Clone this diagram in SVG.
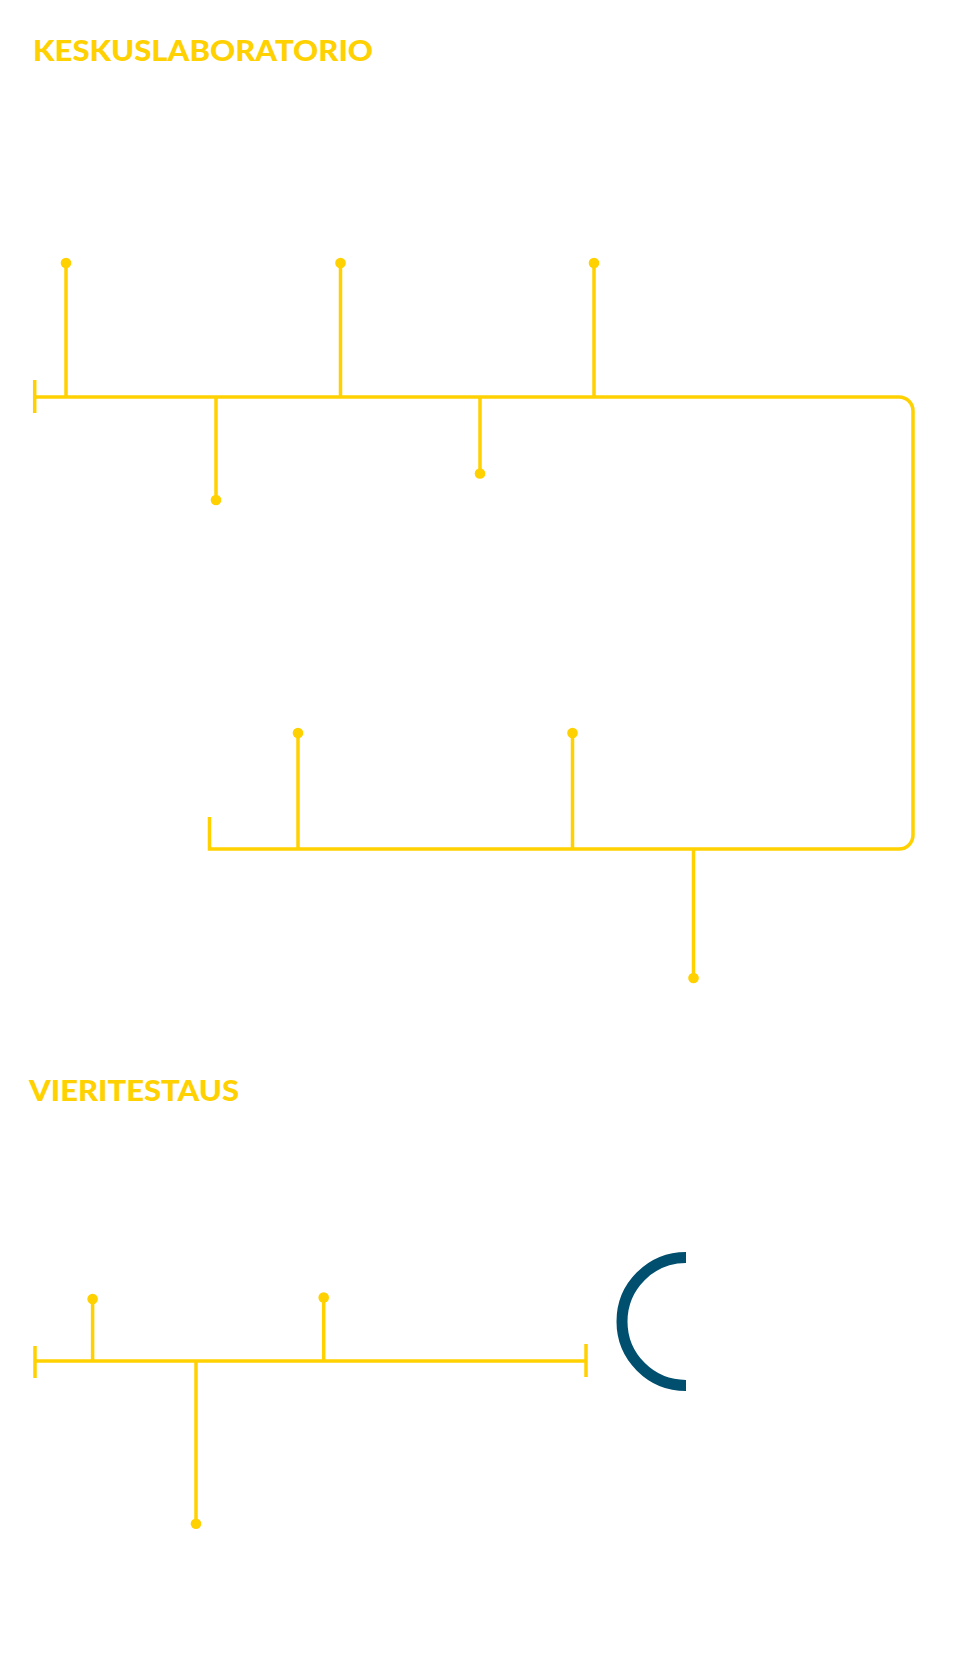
<svg xmlns="http://www.w3.org/2000/svg" width="970" height="1666" viewBox="0 0 970 1666">
<style>
.t{font-family:"Lato","Liberation Sans",sans-serif;font-weight:900;font-size:29px;fill:#FFD100}
.ln{fill:none;stroke:#FFD100;stroke-width:3.5}
.dot{fill:#FFD100}
</style>
<rect width="970" height="1666" fill="#ffffff"/>
<g id="title-keskuslaboratorio"><text class="t" x="33" y="61" textLength="340" lengthAdjust="spacingAndGlyphs">KESKUSLABORATORIO</text></g>
<g id="title-vieritestaus"><text class="t" x="29" y="1101" textLength="210" lengthAdjust="spacingAndGlyphs">VIERITESTAUS</text></g>
<g id="connectors">
<path class="ln" d="M35,397 H899 A14,14 0 0 1 913,411 V835 A14,14 0 0 1 899,849 H209.5 V817"/>
<path class="ln" d="M34.7,380 V413"/>
<path class="ln" d="M66,263 V397 M340.5,263 V397 M594,263 V397 M216,397 V500 M480,397 V473.5"/>
<path class="ln" d="M298,733 V849 M572.5,733 V849 M693.5,849 V978"/>
<path class="ln" d="M35,1361 H586 M35,1346 V1378 M586,1344 V1377"/>
<path class="ln" d="M92.6,1299 V1361 M323.7,1297.5 V1361 M196,1361 V1523.7"/>
</g>
<g id="dots">
<circle class="dot" cx="66" cy="263" r="5.3"/>
<circle class="dot" cx="340.5" cy="263" r="5.3"/>
<circle class="dot" cx="594" cy="263" r="5.3"/>
<circle class="dot" cx="216" cy="500" r="5.3"/>
<circle class="dot" cx="480" cy="473.5" r="5.3"/>
<circle class="dot" cx="298" cy="733" r="5.3"/>
<circle class="dot" cx="572.5" cy="733" r="5.3"/>
<circle class="dot" cx="693.5" cy="978" r="5.3"/>
<circle class="dot" cx="92.6" cy="1299" r="5.3"/>
<circle class="dot" cx="323.7" cy="1297.5" r="5.3"/>
<circle class="dot" cx="196" cy="1523.7" r="5.3"/>
</g>
<g id="arc"><path d="M686,1257.5 A64,64 0 0 0 686,1385.5" fill="none" stroke="#004F6E" stroke-width="11"/></g>
</svg>
